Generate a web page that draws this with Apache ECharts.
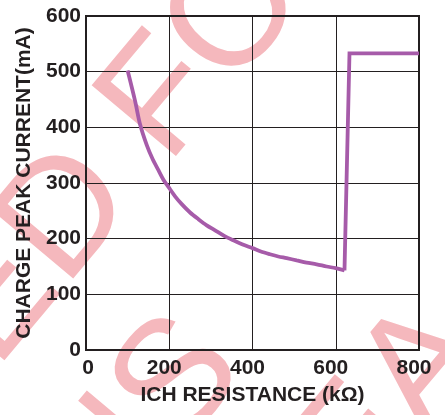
<!DOCTYPE html>
<html>
<head>
<meta charset="utf-8">
<script src="https://cdn.jsdelivr.net/npm/echarts@6/dist/echarts.min.js"></script>
<style>
html,body{margin:0;padding:0;background:#fff;}
#c{width:445px;height:415px;}
</style>
</head>
<body>
<div id="c"></div>
<script>
// Data
const resistanceK = [100, 118, 130, 146, 160, 174, 186, 198, 214, 230, 250, 270, 290, 310, 332, 354, 378, 400, 420, 442, 462, 482, 506, 530, 554, 578, 600, 621, 633, 800];
const peakCurrentMA = [502, 447, 405, 368, 343, 323, 306, 293, 276, 262, 247, 235, 224, 215, 205, 197, 189, 183, 177, 172, 168, 165, 161, 157, 154, 150, 147, 143, 533, 533];
const jumpIndex = 27; // last point of the falling curve
const xTicks = [0, 200, 400, 600, 800];
const yTicks = [0, 100, 200, 300, 400, 500, 600];
const xName = 'ICH RESISTANCE (kΩ)';
const yName = 'CHARGE PEAK CURRENT(mA)';

const FONT = '"Liberation Sans", Arial, Helvetica, sans-serif';
const INK = '#231f20';
const LINE = '#a65ba9';

// Watermark rows (decoration)
const wmRows = [
  { text: 'ED FOR', anchor: 1, cx: 68, cy: 216 },
  { text: 'NS', anchor: 1, cx: 180, cy: 382 },
  { text: 'EA', anchor: 1, cx: 426, cy: 368 }
];
const wmSize = 160;
const ang = 50 * Math.PI / 180;
const ux = Math.cos(ang), uy = -Math.sin(ang);
const mctx = document.createElement('canvas').getContext('2d');
mctx.font = wmSize + 'px ' + FONT;
const graphics = wmRows.map(r => {
  const pre = mctx.measureText(r.text.slice(0, r.anchor)).width;
  const a = mctx.measureText(r.text[r.anchor]).width;
  const d = pre + a / 2;
  return {
    type: 'text', z: -10, silent: true,
    x: r.cx - d * ux, y: r.cy - d * uy,
    rotation: ang,
    style: { text: r.text, font: wmSize + 'px ' + FONT, fill: '#f5b8bd', align: 'left', verticalAlign: 'middle' }
  };
});

const pts = resistanceK.map((x, i) => [x, peakCurrentMA[i]]);

const chart = echarts.init(document.getElementById('c'), null, { renderer: 'canvas' });
chart.setOption({
  animation: false,
  backgroundColor: '#fff',
  graphic: graphics,
  grid: { left: 86, right: 26, top: 16, bottom: 65, show: true, borderColor: INK, borderWidth: 2, backgroundColor: 'transparent' },
  xAxis: {
    type: 'value', min: xTicks[0], max: xTicks[xTicks.length - 1], interval: 200,
    name: xName, nameLocation: 'middle', nameGap: 35,
    nameTextStyle: { fontSize: 21, fontFamily: FONT, color: INK, fontWeight: 'bold' },
    axisLine: { show: true, lineStyle: { color: INK, width: 2 } },
    axisTick: { show: false },
    splitLine: { show: true, lineStyle: { color: INK, width: 1 } },
    axisLabel: {
      margin: 8, fontSize: 21, fontWeight: 'bold', fontFamily: FONT, color: INK,
      formatter: v => v === 0 ? '{z|0}' : '{n|' + v + '}',
      rich: {
        z: { fontSize: 21, fontWeight: 'bold', fontFamily: FONT, color: INK, padding: [0, 0, 0, 4] },
        n: { fontSize: 21, fontWeight: 'bold', fontFamily: FONT, color: INK, padding: [0, 10, 0, 0] }
      }
    }
  },
  yAxis: {
    type: 'value', min: yTicks[0], max: yTicks[yTicks.length - 1], interval: 100,
    name: yName, nameLocation: 'middle', nameGap: 47,
    nameTextStyle: { fontSize: 21, fontFamily: FONT, color: INK, fontWeight: 'bold' },
    axisLine: { show: true, lineStyle: { color: INK, width: 2 } },
    axisTick: { show: false },
    splitLine: { show: true, lineStyle: { color: INK, width: 1 } },
    axisLabel: { margin: 5, fontSize: 21, fontWeight: 'bold', fontFamily: FONT, color: INK }
  },
  series: [{
    type: 'line', z: 10,
    data: pts.slice(0, jumpIndex + 1),
    symbol: 'none', smooth: 0.3,
    lineStyle: { color: LINE, width: 3.8 }
  }, {
    type: 'line', z: 10,
    data: pts.slice(jumpIndex),
    symbol: 'none', smooth: false,
    lineStyle: { color: LINE, width: 3.8, join: 'miter' }
  }]
});
</script>
</body>
</html>
